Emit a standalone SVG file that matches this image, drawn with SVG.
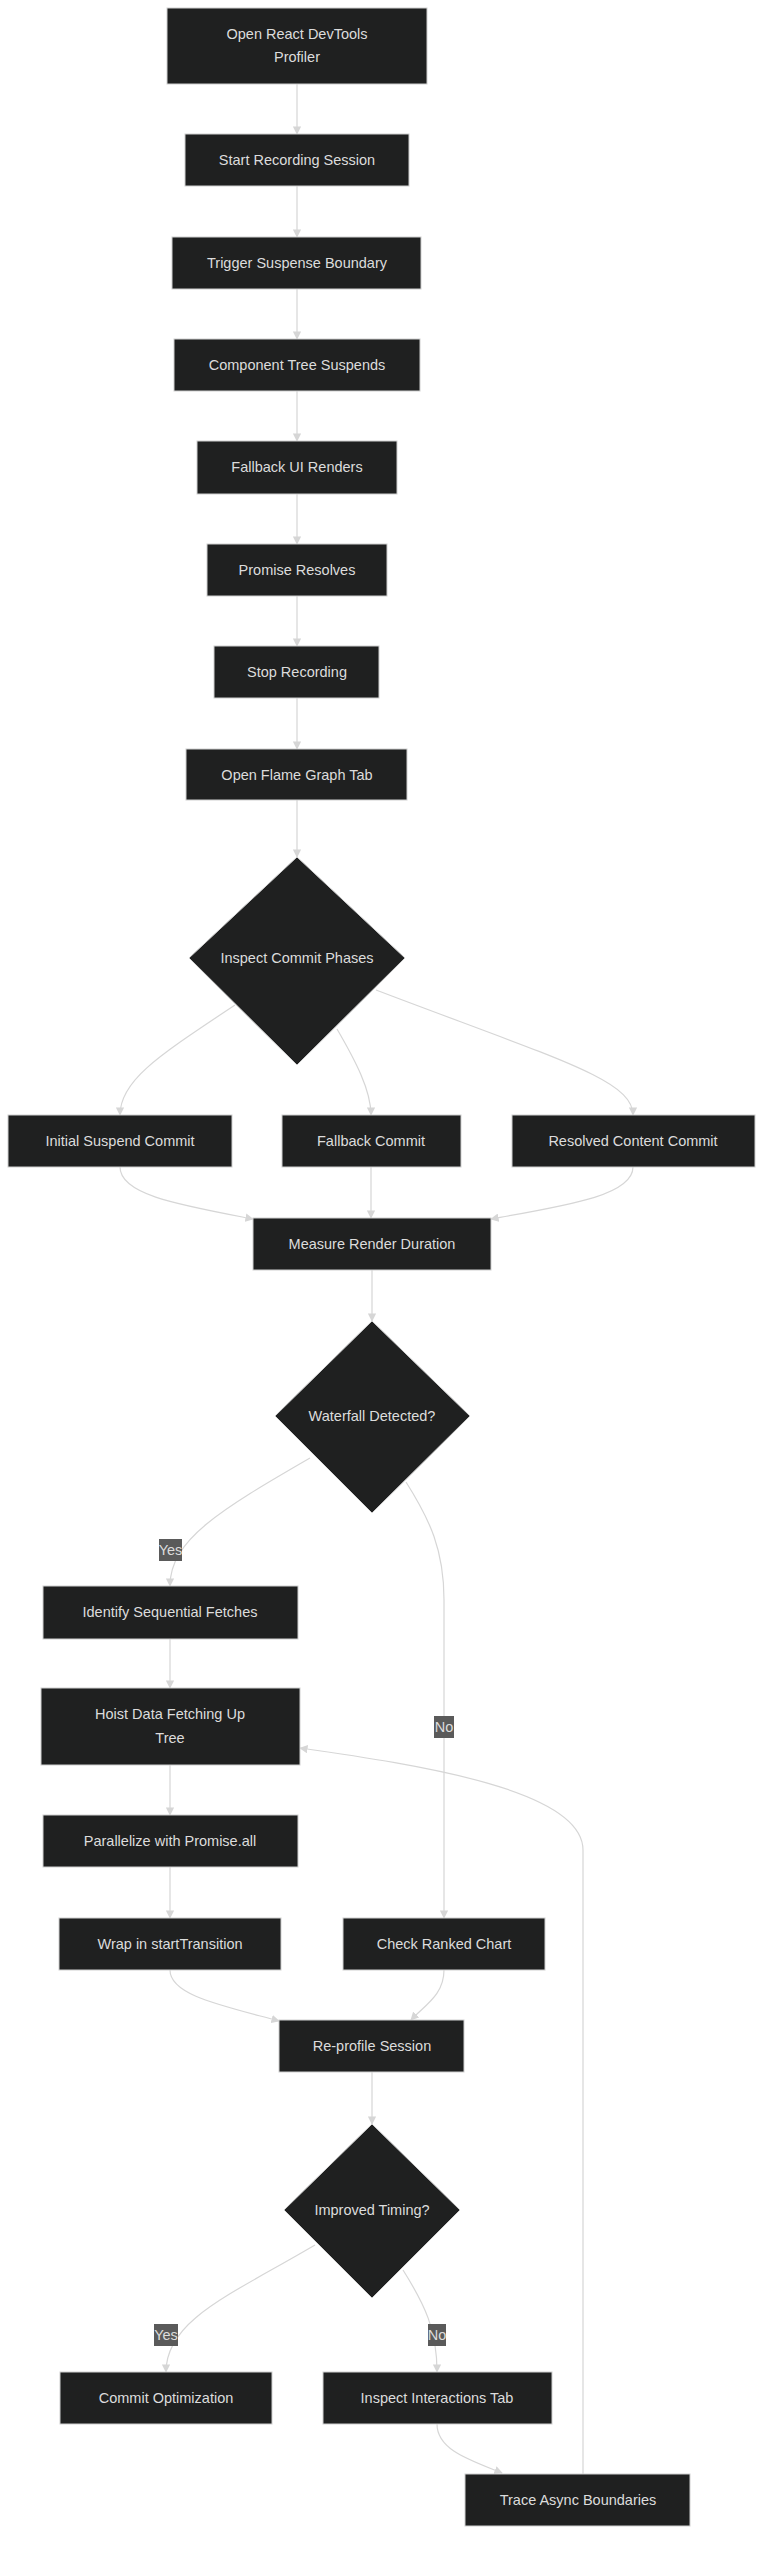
<svg xmlns="http://www.w3.org/2000/svg" width="763" height="2560" viewBox="0 0 763 2560">
<style>
.n rect,.n polygon{fill:#1f2020;stroke:#cfcfcf;stroke-width:1}
text{font-family:"Liberation Sans",Arial,sans-serif;font-size:14.5px;fill:#dcdcdc;text-anchor:middle;dominant-baseline:central}
.e path{fill:none;stroke:#d6d6d6;stroke-width:1.2}
.l rect{fill:#5a5a5a}
</style>
<defs><marker id="a" viewBox="0 0 10 10" refX="9" refY="5" markerWidth="7" markerHeight="7" orient="auto-start-reverse"><path d="M0,0L10,5L0,10z" fill="#d6d6d6"/></marker></defs>
<rect width="763" height="2560" fill="#ffffff"/>
<g class="e" marker-end="url(#a)">
<path d="M297,84V134" marker-end="url(#a)"/>
<path d="M297,186V237" marker-end="url(#a)"/>
<path d="M297,289V339" marker-end="url(#a)"/>
<path d="M297,391V441" marker-end="url(#a)"/>
<path d="M297,494V544" marker-end="url(#a)"/>
<path d="M297,596V646" marker-end="url(#a)"/>
<path d="M297,698V749" marker-end="url(#a)"/>
<path d="M297,800V857" marker-end="url(#a)"/>
<path d="M235,1005C160,1055 120,1080 120,1115" marker-end="url(#a)"/>
<path d="M337,1029C355,1060 371,1090 371,1115" marker-end="url(#a)"/>
<path d="M376,990C560,1060 633,1080 633,1115" marker-end="url(#a)"/>
<path d="M120,1167C120,1195 180,1205 253,1219" marker-end="url(#a)"/>
<path d="M371,1167V1218" marker-end="url(#a)"/>
<path d="M633,1167C633,1195 570,1205 491,1219" marker-end="url(#a)"/>
<path d="M372,1270V1321" marker-end="url(#a)"/>
<path d="M310,1458C220,1510 170,1540 170,1586" marker-end="url(#a)"/>
<path d="M406,1482C430,1520 444,1550 444,1600V1918" marker-end="url(#a)"/>
<path d="M170,1639V1688" marker-end="url(#a)"/>
<path d="M170,1765V1815" marker-end="url(#a)"/>
<path d="M170,1867V1918" marker-end="url(#a)"/>
<path d="M170,1970C170,1995 220,2005 279,2021" marker-end="url(#a)"/>
<path d="M444,1970C444,1995 425,2005 411,2020" marker-end="url(#a)"/>
<path d="M372,2072V2124" marker-end="url(#a)"/>
<path d="M315,2245C230,2295 166,2320 166,2372" marker-end="url(#a)"/>
<path d="M403,2270C425,2305 437,2330 437,2372" marker-end="url(#a)"/>
<path d="M437,2424C437,2450 470,2460 502,2473" marker-end="url(#a)"/>
<path d="M583,2474V1850C583,1790 420,1765 300,1748" marker-end="url(#a)"/>
</g>
<g class="l">
<g id="lyes1"><rect x="159" y="1539" width="23" height="22"/><text x="170.5" y="1550">Yes</text></g>
<g id="lno1"><rect x="434" y="1716" width="20" height="22"/><text x="444" y="1727">No</text></g>
<g id="lyes2"><rect x="154" y="2324" width="24" height="22"/><text x="166" y="2335">Yes</text></g>
<g id="lno2"><rect x="428" y="2324" width="18" height="22"/><text x="437" y="2335">No</text></g>
</g>
<g class="n">
<g id="n1"><rect x="167" y="8" width="260" height="76"/><text x="297" y="34">Open React DevTools</text><text x="297" y="57">Profiler</text></g>
<g id="n2"><rect x="185" y="134" width="224" height="52"/><text x="297" y="160">Start Recording Session</text></g>
<g id="n3"><rect x="172" y="237" width="249" height="52"/><text x="297" y="263">Trigger Suspense Boundary</text></g>
<g id="n4"><rect x="174" y="339" width="246" height="52"/><text x="297" y="365">Component Tree Suspends</text></g>
<g id="n5"><rect x="197" y="441" width="200" height="53"/><text x="297" y="467">Fallback UI Renders</text></g>
<g id="n6"><rect x="207" y="544" width="180" height="52"/><text x="297" y="570">Promise Resolves</text></g>
<g id="n7"><rect x="214" y="646" width="165" height="52"/><text x="297" y="672">Stop Recording</text></g>
<g id="n8"><rect x="186" y="749" width="221" height="51"/><text x="297" y="775">Open Flame Graph Tab</text></g>
<g id="d1"><polygon points="297,857 405,958 297,1065 189,958"/><text x="297" y="958">Inspect Commit Phases</text></g>
<g id="n9"><rect x="8" y="1115" width="224" height="52"/><text x="120" y="1141">Initial Suspend Commit</text></g>
<g id="n10"><rect x="282" y="1115" width="179" height="52"/><text x="371" y="1141">Fallback Commit</text></g>
<g id="n11"><rect x="512" y="1115" width="243" height="52"/><text x="633" y="1141">Resolved Content Commit</text></g>
<g id="n12"><rect x="253" y="1218" width="238" height="52"/><text x="372" y="1244">Measure Render Duration</text></g>
<g id="d2"><polygon points="372,1321 470,1416 372,1513 275,1416"/><text x="372" y="1416">Waterfall Detected?</text></g>
<g id="n13"><rect x="43" y="1586" width="255" height="53"/><text x="170" y="1612">Identify Sequential Fetches</text></g>
<g id="n14"><rect x="41" y="1688" width="259" height="77"/><text x="170" y="1714">Hoist Data Fetching Up</text><text x="170" y="1738">Tree</text></g>
<g id="n15"><rect x="43" y="1815" width="255" height="52"/><text x="170" y="1841">Parallelize with Promise.all</text></g>
<g id="n16"><rect x="59" y="1918" width="222" height="52"/><text x="170" y="1944">Wrap in startTransition</text></g>
<g id="n17"><rect x="343" y="1918" width="202" height="52"/><text x="444" y="1944">Check Ranked Chart</text></g>
<g id="n18"><rect x="279" y="2020" width="185" height="52"/><text x="372" y="2046">Re-profile Session</text></g>
<g id="d3"><polygon points="372,2124 460,2210 372,2298 284,2210"/><text x="372" y="2210">Improved Timing?</text></g>
<g id="n19"><rect x="60" y="2372" width="212" height="52"/><text x="166" y="2398">Commit Optimization</text></g>
<g id="n20"><rect x="323" y="2372" width="229" height="52"/><text x="437" y="2398">Inspect Interactions Tab</text></g>
<g id="n21"><rect x="465" y="2474" width="225" height="52"/><text x="578" y="2500">Trace Async Boundaries</text></g>
</g>
</svg>
